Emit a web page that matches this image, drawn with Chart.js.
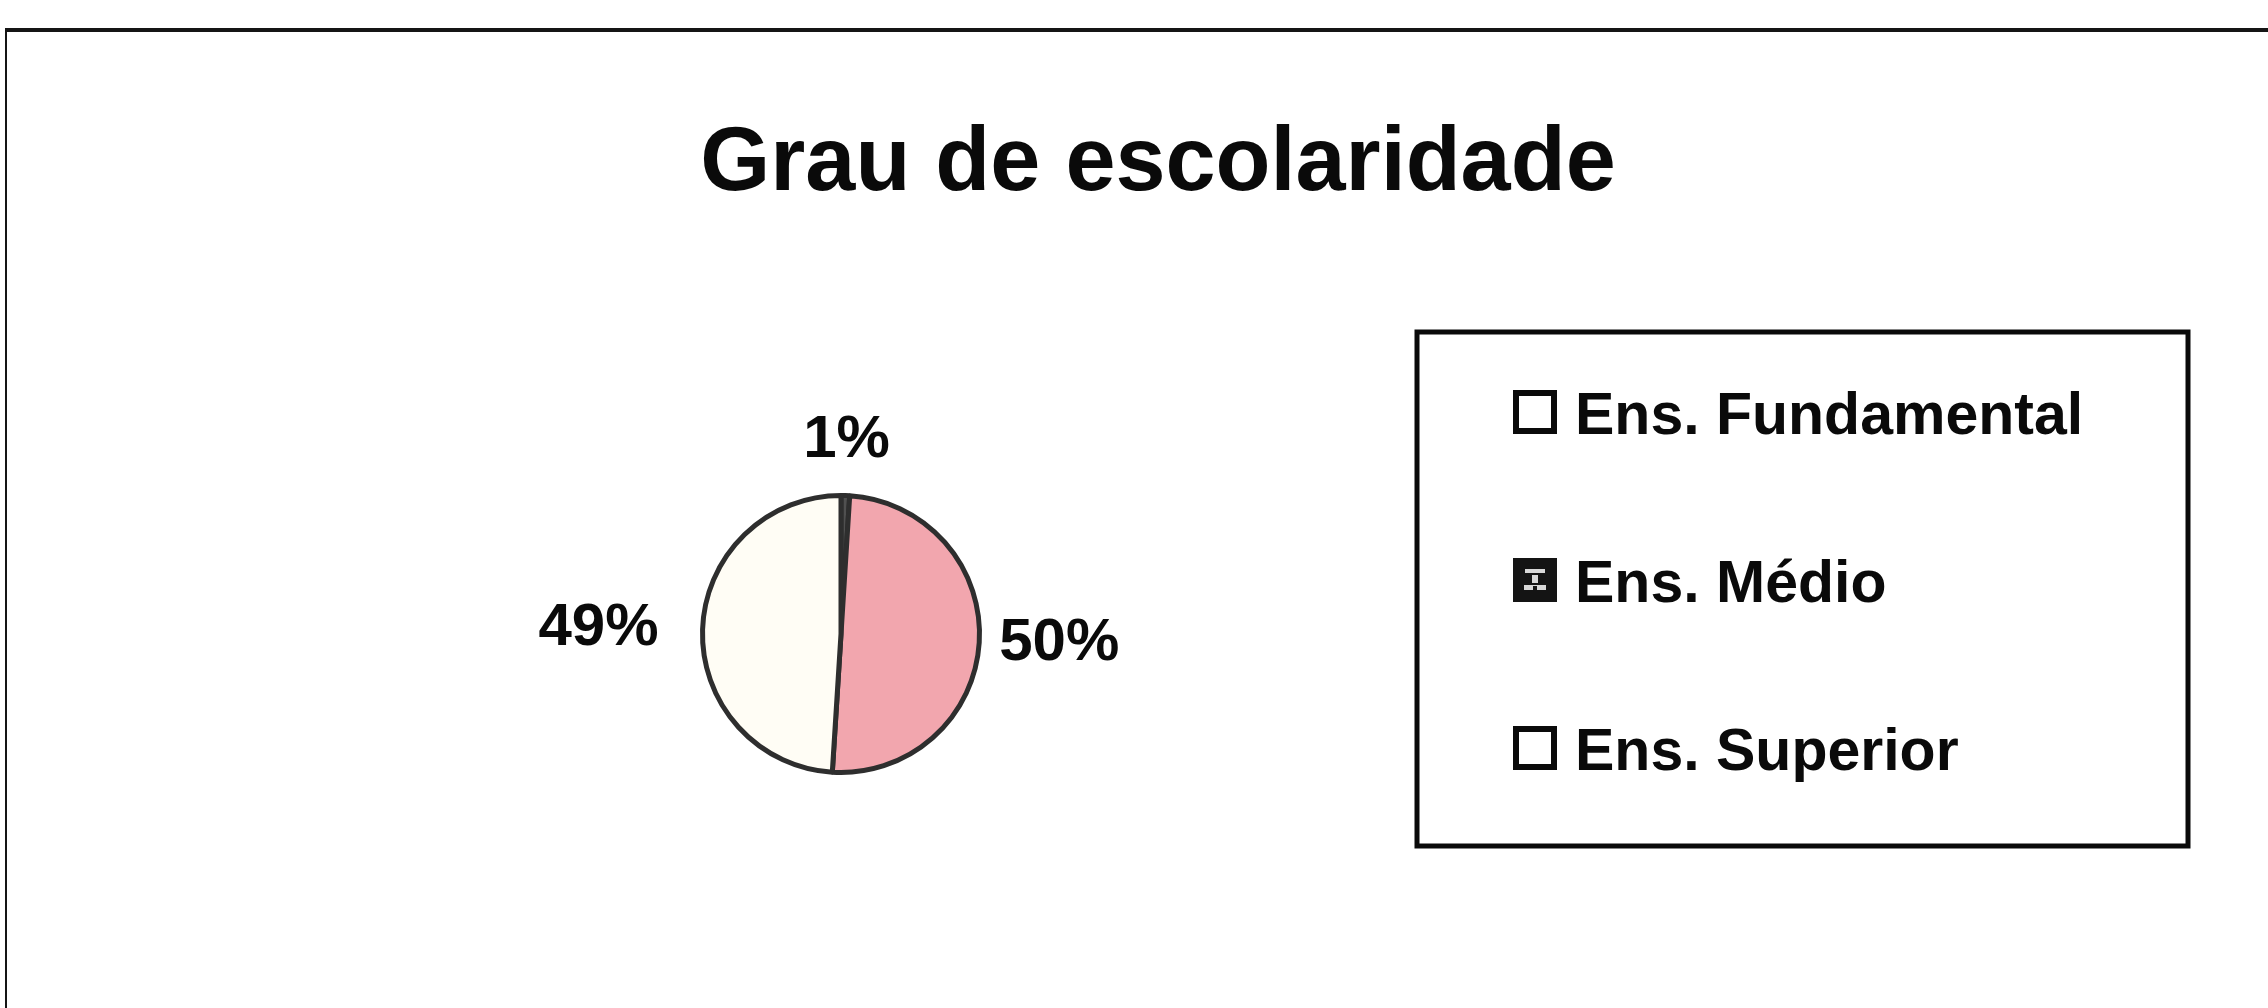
<!DOCTYPE html>
<html>

<head>
    <meta charset="utf-8">
    <script src="https://cdn.jsdelivr.net/npm/chart.js@4.4.0/dist/chart.umd.min.js"></script>
    <style>
        html, body {
            margin: 0;
            padding: 0;
            background: #ffffff;
        }

        #chart-container {
            position: relative;
            width: 2268px;
            height: 1008px;
        }
    </style>
</head>

<body>
    <div id="chart-container">
        <canvas id="pieChart"></canvas>
    </div>
    <script>
        const chartTitle = 'Grau de escolaridade';
        const categories = ['Ens. Fundamental', 'Ens. Médio', 'Ens. Superior'];
        const percentValues = [1, 50, 49];
        // the 1% sliver reads as dark in the scan (its two borders merge)
        const sliceColors = ['#505050', '#f2a6ae', '#fffdf5'];

        const FONT = '"Liberation Sans", Arial, sans-serif';

        // white page, frame lines (frame runs off the right and bottom edges)
        const framePlugin = {
            id: 'frame',
            beforeDraw(chart) {
                const ctx = chart.ctx;
                ctx.save();
                ctx.fillStyle = '#ffffff';
                ctx.fillRect(0, 0, chart.width, chart.height);
                ctx.strokeStyle = '#151515';
                ctx.lineWidth = 4;
                ctx.beginPath();
                ctx.moveTo(5, 30);
                ctx.lineTo(chart.width, 30);
                ctx.stroke();
                ctx.lineWidth = 2;
                ctx.beginPath();
                ctx.moveTo(6, 30);
                ctx.lineTo(6, chart.height);
                ctx.stroke();
                ctx.restore();
            }
        };

        // title and the boxed legend on the right
        const titleLegendPlugin = {
            id: 'titleLegend',
            afterDraw(chart, args, opts) {
                const ctx = chart.ctx;
                ctx.save();

                ctx.fillStyle = '#0a0a0a';
                ctx.font = 'bold ' + opts.titleSize + 'px ' + FONT;
                ctx.textAlign = 'center';
                ctx.textBaseline = 'alphabetic';
                ctx.fillText(chartTitle, opts.titleX, opts.titleY);

                const b = opts.box;
                ctx.strokeStyle = '#0a0a0a';
                ctx.lineWidth = 5;
                ctx.strokeRect(b.left, b.top, b.right - b.left, b.bottom - b.top);

                ctx.font = 'bold ' + opts.labelSize + 'px ' + FONT;
                ctx.textAlign = 'left';
                chart.data.labels.forEach((label, i) => {
                    const base = opts.firstBaseline + i * opts.rowGap;
                    const mx = opts.markerX, my = base - opts.markerSize;
                    const s = opts.markerSize;
                    if (opts.markerDark[i]) {
                        ctx.fillStyle = '#141414';
                        ctx.fillRect(mx, my, s, s);
                        // little light motif inside the patterned marker
                        ctx.fillStyle = '#d8d8d8';
                        ctx.fillRect(mx + 12, my + 11, 20, 4);
                        ctx.fillRect(mx + 19, my + 17, 6, 8);
                        ctx.fillRect(mx + 11, my + 27, 22, 5);
                        ctx.fillStyle = '#141414';
                        ctx.fillRect(mx + 20, my + 28, 4, 4);
                    } else {
                        ctx.fillStyle = '#ffffff';
                        ctx.fillRect(mx, my, s, s);
                        ctx.strokeStyle = '#0a0a0a';
                        ctx.lineWidth = 6;
                        ctx.strokeRect(mx + 3, my + 3, s - 6, s - 6);
                    }
                    ctx.fillStyle = '#0a0a0a';
                    ctx.textBaseline = 'alphabetic';
                    ctx.fillText(label, opts.textX, base);
                });
                ctx.restore();
            }
        };

        // percent labels placed just outside each slice
        const pctLabelsPlugin = {
            id: 'pctLabels',
            afterDatasetsDraw(chart, args, opts) {
                const ctx = chart.ctx;
                const meta = chart.getDatasetMeta(0);
                const data = chart.data.datasets[0].data;
                ctx.save();
                ctx.font = 'bold ' + opts.size + 'px ' + FONT;
                ctx.fillStyle = '#0a0a0a';
                meta.data.forEach((arc, i) => {
                    const p = arc.getProps(['x', 'y', 'startAngle', 'endAngle', 'outerRadius'], true);
                    const mid = (p.startAngle + p.endAngle) / 2;
                    const dx = Math.cos(mid), dy = Math.sin(mid);
                    const r = p.outerRadius + opts.offsets[i];
                    const x = p.x + dx * r, y = p.y + dy * r;
                    if (Math.abs(dx) >= Math.abs(dy)) {
                        ctx.textAlign = dx > 0 ? 'left' : 'right';
                        ctx.textBaseline = 'middle';
                    } else {
                        ctx.textAlign = 'center';
                        ctx.textBaseline = dy < 0 ? 'alphabetic' : 'top';
                    }
                    ctx.fillText(data[i] + '%', x, y);
                });
                ctx.restore();
            }
        };

        const ctx = document.getElementById('pieChart').getContext('2d');

        const pieChart = new Chart(ctx, {
            type: 'pie',
            data: {
                labels: categories,
                datasets: [{
                    data: percentValues,
                    backgroundColor: sliceColors,
                    borderColor: '#2e2e2e',
                    borderWidth: 5
                }]
            },
            options: {
                responsive: true,
                maintainAspectRatio: false,
                animation: false,
                events: [],
                layout: {
                    padding: { left: 700, right: 1286, top: 493, bottom: 233 }
                },
                plugins: {
                    legend: { display: false },
                    title: { display: false },
                    tooltip: { enabled: false },
                    pctLabels: {
                        size: 60,
                        offsets: [39, 20, 44]
                    },
                    titleLegend: {
                        titleSize: 90,
                        titleX: 1158,
                        titleY: 190,
                        box: { left: 1417, top: 332, right: 2188, bottom: 846 },
                        labelSize: 59,
                        firstBaseline: 434,
                        rowGap: 168,
                        markerX: 1513,
                        markerSize: 44,
                        markerDark: [false, true, false],
                        textX: 1575
                    }
                }
            },
            plugins: [framePlugin, pctLabelsPlugin, titleLegendPlugin]
        });
    </script>
</body>

</html>
